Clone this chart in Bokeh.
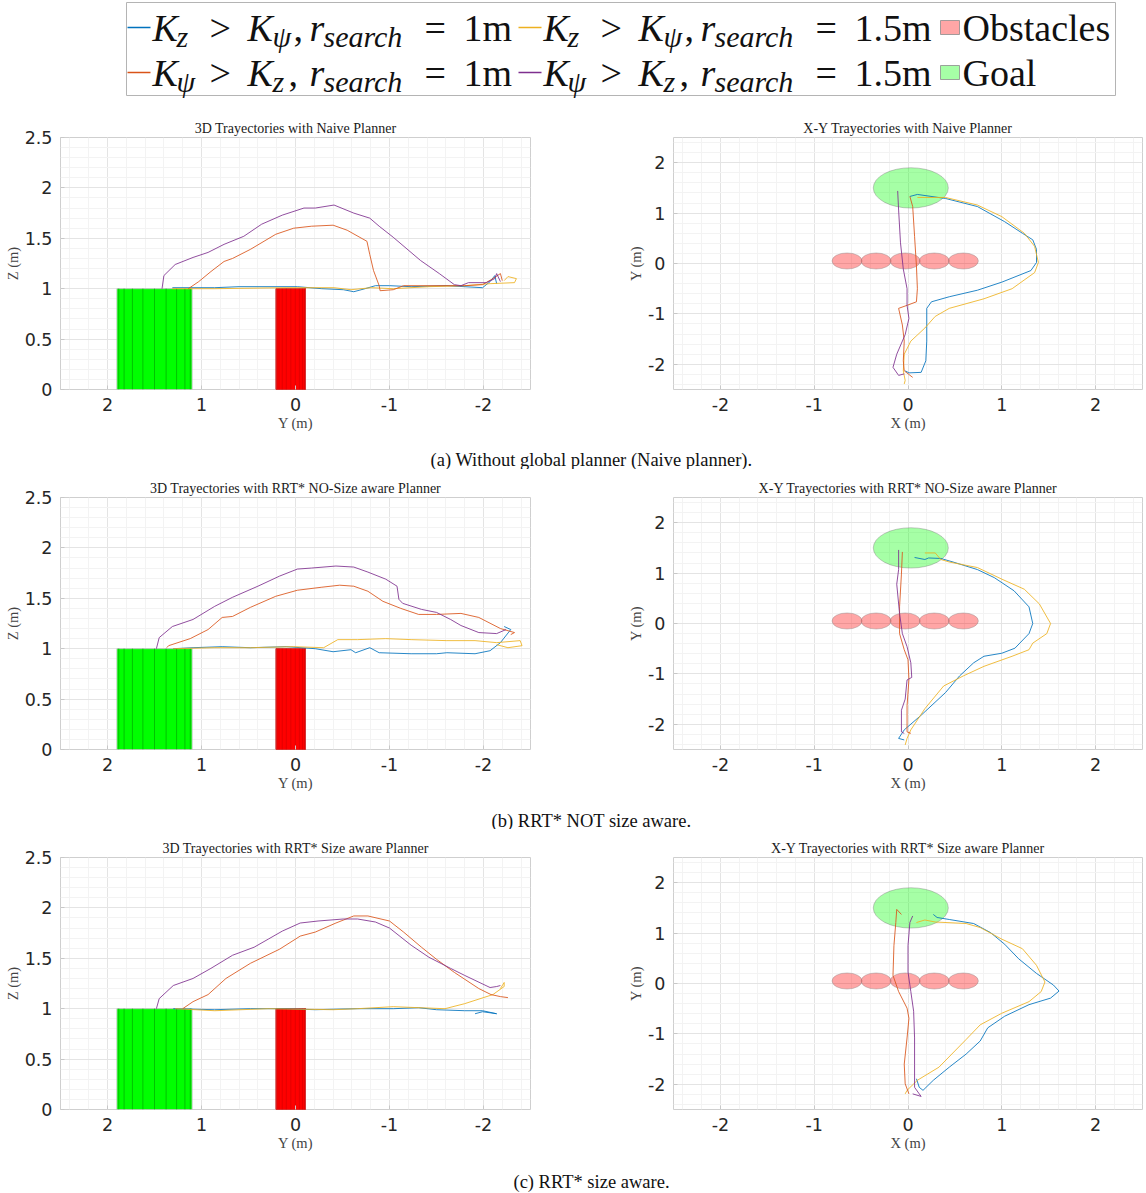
import numpy as np
from bokeh.plotting import figure
from bokeh.layouts import column, row
from bokeh.models import Range1d, FixedTicker, Label, ColumnDataSource
from bokeh.embed import file_html
from bokeh.resources import INLINE
from bokeh.core.properties import value

# ---------------- data ----------------
goal_center_x = 0.03
goal_center_y = 1.5
goal_radius = 0.4
goal_height = 1.0
obstacle_x = [-0.65, -0.34, -0.03, 0.28, 0.59]
obstacle_y = [0.05, 0.05, 0.05, 0.05, 0.05]
obstacle_radius = 0.155
obstacle_height = 1.0
facet_angles_deg = [18, 36, 54, 72, 90, 108, 126, 144, 162]

y3d_ticks = [-2, -1, 0, 1, 2]
y3d_labels = ["-2", "-1", "0", "1", "2"]
z3d_ticks = [0, 0.5, 1, 1.5, 2, 2.5]
z3d_labels = ["0", "0.5", "1", "1.5", "2", "2.5"]
xy_ticks = [-2, -1, 0, 1, 2]
xy_labels = ["-2", "-1", "0", "1", "2"]

# (a) naive planner, side view (Y, Z)
naive3d_blue_y = [1.31, 0.86, 0.6, 0.25, -0.02, -0.28, -0.51, -0.62, -0.74, -0.85, -1.0, -1.23, -1.61, -1.99, -2.07, -2.12, -2.14]
naive3d_blue_z = [1.01, 1.01, 1.02, 1.02, 1.02, 1.0, 0.99, 0.97, 1.0, 1.03, 1.03, 1.02, 1.03, 1.01, 1.07, 1.13, 1.05]
naive3d_yellow_y = [1.31, 0.86, 0.10, -0.41, -0.59, -0.81, -1.04, -1.42, -1.80, -2.07, -2.33, -2.35, -2.26, -2.22]
naive3d_yellow_z = [1.0, 1.0, 1.01, 1.01, 0.99, 1.01, 1.0, 1.02, 1.03, 1.05, 1.06, 1.10, 1.12, 1.08]
naive3d_orange_y = [1.14, 1.03, 0.90, 0.76, 0.67, 0.48, 0.21, 0.02, -0.17, -0.40, -0.55, -0.76, -0.79, -0.83, -0.89, -0.90, -1.04, -1.15, -1.42, -1.80, -1.99, -2.10, -2.18, -2.20]
naive3d_orange_z = [1.0, 1.07, 1.17, 1.27, 1.30, 1.39, 1.54, 1.60, 1.62, 1.63, 1.58, 1.47, 1.34, 1.18, 1.03, 0.98, 0.99, 1.03, 1.03, 1.03, 1.04, 1.10, 1.15, 1.08]
naive3d_purple_y = [1.42, 1.40, 1.28, 1.09, 0.93, 0.76, 0.55, 0.36, 0.14, -0.09, -0.21, -0.41, -0.62, -0.79, -0.89, -1.04, -1.33, -1.53, -1.69, -1.76, -1.84, -2.03, -2.12, -2.14, -2.18]
naive3d_purple_z = [1.0, 1.13, 1.24, 1.31, 1.36, 1.44, 1.52, 1.64, 1.73, 1.80, 1.80, 1.83, 1.75, 1.70, 1.62, 1.51, 1.28, 1.15, 1.04, 1.03, 1.06, 1.06, 1.10, 1.15, 1.07]

# (a) naive planner, top view (X, Y)
naivexy_blue_x = [0.02, 0.10, 0.40, 0.74, 1.03, 1.22, 1.33, 1.37, 1.37, 1.31, 1.0, 0.74, 0.44, 0.25, 0.20, 0.20, 0.19, 0.14, 0.01, -0.03]
naivexy_blue_y = [1.33, 1.37, 1.29, 1.13, 0.83, 0.60, 0.47, 0.28, 0.02, -0.14, -0.37, -0.53, -0.66, -0.76, -0.89, -1.54, -1.93, -2.16, -2.17, -2.13]
naivexy_yellow_x = [0.10, 0.40, 0.74, 1.0, 1.24, 1.35, 1.39, 1.35, 1.11, 0.81, 0.44, 0.29, 0.18, 0.03, -0.04, -0.05, -0.03, -0.04]
naivexy_yellow_y = [1.31, 1.31, 1.16, 0.93, 0.60, 0.34, 0.02, -0.18, -0.50, -0.70, -0.89, -1.05, -1.28, -1.54, -1.80, -2.13, -2.32, -2.39]
naivexy_orange_x = [0.02, 0.05, 0.07, 0.09, 0.10, 0.09, -0.01, -0.10, -0.06, -0.04, -0.05, -0.04, 0.05]
naivexy_orange_y = [1.33, 1.13, 0.54, -0.05, -0.50, -0.76, -0.83, -0.89, -1.22, -1.54, -1.93, -2.13, -2.26]
naivexy_purple_x = [-0.11, -0.10, -0.08, -0.05, -0.01, -0.01, 0.01, -0.03, -0.12, -0.16, -0.10, -0.04]
naivexy_purple_y = [1.44, 1.06, 0.41, -0.11, -0.50, -0.83, -1.09, -1.41, -1.80, -2.06, -2.22, -2.19]

# (b) RRT* not size aware, side view
rrt3d_blue_y = [1.30, 1.09, 0.78, 0.48, 0.10, -0.21, -0.40, -0.59, -0.64, -0.79, -0.89, -1.23, -1.50, -1.61, -1.91, -2.07, -2.18, -2.29, -2.22]
rrt3d_blue_z = [1.00, 1.01, 1.02, 1.01, 1.02, 1.0, 0.97, 0.99, 0.96, 1.01, 0.96, 0.95, 0.95, 0.96, 0.95, 0.98, 1.06, 1.19, 1.22]
rrt3d_yellow_y = [1.30, 0.86, 0.48, 0.02, -0.30, -0.45, -0.66, -0.96, -1.23, -1.61, -1.91, -2.14, -2.39, -2.41, -2.26, -2.14]
rrt3d_yellow_z = [1.0, 1.01, 1.01, 1.02, 1.01, 1.09, 1.09, 1.10, 1.09, 1.08, 1.08, 1.06, 1.08, 1.03, 1.01, 1.04]
rrt3d_orange_y = [1.37, 1.35, 1.12, 0.93, 0.78, 0.67, 0.48, 0.21, -0.02, -0.28, -0.47, -0.62, -0.77, -0.93, -1.12, -1.31, -1.50, -1.76, -1.95, -2.18, -2.33, -2.29]
rrt3d_orange_z = [1.01, 1.03, 1.10, 1.19, 1.31, 1.32, 1.41, 1.52, 1.58, 1.61, 1.63, 1.62, 1.57, 1.47, 1.40, 1.34, 1.34, 1.35, 1.31, 1.20, 1.16, 1.14]
rrt3d_purple_y = [1.48, 1.45, 1.31, 1.09, 0.86, 0.67, 0.40, 0.17, -0.02, -0.17, -0.43, -0.62, -0.77, -0.96, -1.08, -1.10, -1.14, -1.34, -1.50, -1.65, -1.76, -1.95, -2.14, -2.24]
rrt3d_purple_z = [1.0, 1.11, 1.22, 1.29, 1.42, 1.51, 1.62, 1.72, 1.79, 1.80, 1.82, 1.81, 1.76, 1.69, 1.62, 1.49, 1.45, 1.39, 1.36, 1.29, 1.23, 1.16, 1.15, 1.19]

# (b) RRT* not size aware, top view
rrtxy_blue_x = [0.07, 0.18, 0.22, 0.35, 0.48, 0.74, 0.92, 1.13, 1.29, 1.33, 1.29, 1.14, 1.0, 0.81, 0.70, 0.55, 0.40, 0.14, -0.04, -0.10, -0.04]
rrtxy_blue_y = [1.31, 1.27, 1.30, 1.29, 1.22, 1.07, 0.91, 0.65, 0.33, 0.0, -0.20, -0.49, -0.59, -0.65, -0.78, -1.04, -1.37, -1.82, -2.11, -2.28, -2.31]
rrtxy_yellow_x = [0.18, 0.29, 0.35, 0.44, 0.74, 1.0, 1.24, 1.40, 1.52, 1.48, 1.33, 1.29, 1.11, 0.81, 0.59, 0.38, 0.18, 0.03, -0.01, -0.03]
rrtxy_yellow_y = [1.40, 1.40, 1.27, 1.22, 1.11, 0.88, 0.68, 0.39, 0.0, -0.20, -0.39, -0.52, -0.65, -0.85, -1.04, -1.24, -1.69, -2.11, -2.28, -2.41]
rrtxy_orange_x = [-0.06, -0.07, -0.09, -0.09, -0.04, 0.0, 0.01, -0.01, -0.01, 0.03]
rrtxy_orange_y = [1.42, 0.98, 0.33, -0.20, -0.52, -0.72, -1.11, -1.63, -2.15, -2.18]
rrtxy_purple_x = [-0.10, -0.10, -0.12, -0.09, -0.06, -0.01, 0.03, 0.04, -0.01, -0.03, -0.07, -0.07, -0.04]
rrtxy_purple_y = [1.46, 1.07, 0.78, 0.20, -0.20, -0.46, -0.78, -1.07, -1.12, -1.50, -1.72, -2.15, -2.18]

# (c) RRT* size aware, side view
size3d_blue_y = [1.30, 0.86, 0.48, 0.10, -0.21, -0.66, -1.04, -1.31, -1.50, -1.80, -1.99, -2.14, -1.99, -1.91]
size3d_blue_z = [1.0, 0.99, 1.0, 1.0, 0.99, 1.0, 1.0, 1.01, 0.99, 0.98, 0.98, 0.95, 0.97, 0.95]
size3d_yellow_y = [1.28, 0.86, 0.29, -0.40, -0.66, -1.04, -1.59, -1.80, -2.10, -2.22, -2.22, -2.18]
size3d_yellow_z = [1.0, 0.98, 1.0, 0.99, 1.0, 1.02, 1.0, 1.05, 1.14, 1.22, 1.26, 1.20]
size3d_orange_y = [1.20, 1.09, 0.93, 0.74, 0.48, 0.17, -0.05, -0.21, -0.43, -0.62, -0.77, -1.0, -1.15, -1.34, -1.50, -1.69, -1.95, -2.08, -2.18, -2.26]
size3d_orange_z = [1.0, 1.07, 1.14, 1.30, 1.45, 1.59, 1.72, 1.76, 1.85, 1.92, 1.92, 1.87, 1.76, 1.61, 1.49, 1.36, 1.20, 1.14, 1.12, 1.11]
size3d_purple_y = [1.48, 1.45, 1.30, 1.09, 0.90, 0.67, 0.44, 0.29, 0.14, -0.05, -0.24, -0.51, -0.66, -0.85, -1.0, -1.23, -1.42, -1.65, -1.80, -2.07, -2.14, -2.18]
size3d_purple_z = [1.0, 1.10, 1.23, 1.30, 1.40, 1.53, 1.61, 1.69, 1.77, 1.85, 1.87, 1.89, 1.89, 1.86, 1.80, 1.63, 1.51, 1.40, 1.33, 1.21, 1.22, 1.23]

# (c) RRT* size aware, top view
sizexy_blue_x = [0.27, 0.31, 0.44, 0.70, 0.88, 1.03, 1.18, 1.37, 1.55, 1.61, 1.52, 1.29, 1.03, 0.85, 0.77, 0.62, 0.44, 0.27, 0.16, 0.12, 0.09]
sizexy_blue_y = [1.37, 1.31, 1.27, 1.19, 1.01, 0.78, 0.49, 0.20, -0.03, -0.15, -0.29, -0.42, -0.65, -0.88, -1.14, -1.40, -1.66, -1.92, -2.12, -2.06, -1.89]
sizexy_yellow_x = [0.09, 0.18, 0.29, 0.62, 0.77, 1.0, 1.22, 1.37, 1.46, 1.42, 1.29, 1.0, 0.77, 0.62, 0.33, 0.10, -0.01, -0.03]
sizexy_yellow_y = [1.21, 1.26, 1.22, 1.19, 1.11, 0.88, 0.69, 0.36, 0.03, -0.16, -0.36, -0.59, -0.82, -1.11, -1.66, -1.92, -2.12, -2.19]
sizexy_orange_x = [-0.07, -0.12, -0.13, -0.15, -0.16, -0.10, -0.01, 0.01, -0.01, -0.04, -0.03, 0.01]
sizexy_orange_y = [1.37, 1.47, 1.21, 0.75, 0.16, -0.16, -0.49, -0.69, -1.08, -1.60, -1.99, -2.19]
sizexy_purple_x = [0.05, 0.02, 0.0, 0.0, 0.03, 0.06, 0.07, 0.07, 0.07, 0.12, 0.14, 0.05]
sizexy_purple_y = [1.34, 1.21, 0.75, 0.23, -0.16, -0.55, -1.08, -1.60, -2.06, -2.19, -2.24, -2.19]

titles = ["3D Trayectories with Naive Planner", "X-Y Trayectories with Naive Planner",
          "3D Trayectories with RRT* NO-Size aware Planner", "X-Y Trayectories with RRT* NO-Size aware Planner",
          "3D Trayectories with RRT* Size aware Planner", "X-Y Trayectories with RRT* Size aware Planner"]
captions = ["(a) Without global planner (Naive planner).", "(b) RRT* NOT size aware.", "(c) RRT* size aware."]

# ---------------- style / layout constants ----------------
BLUE, ORANGE, YELLOW, PURPLE = "#0072BD", "#D95319", "#EDB120", "#7E2F8E"
TICK_FONT = "DejaVu Sans"
SERIF = "Liberation Serif"
W = 1146          # total layout width (page has no body margin)
TOP = 28          # top border of panels (title)
BOT = 40
FRAME_H = 256
PANEL_H = TOP + FRAME_H + BOT
CAP_H = 36
LEG_H = 137 - TOP
LEFT_W = 60 + 470 + 83
RIGHT_W = W - LEFT_W   # 60 + 469 + 4


def style_axes(p, xticks, xlabels, xminor, yticks, ylabels, yminor, xlab, ylab):
    p.xaxis.ticker = FixedTicker(ticks=xticks, minor_ticks=xminor)
    p.yaxis.ticker = FixedTicker(ticks=yticks, minor_ticks=yminor)
    p.xaxis.major_label_overrides = dict(zip(xticks, xlabels))
    p.yaxis.major_label_overrides = dict(zip(yticks, ylabels))
    p.xaxis.axis_label = xlab
    p.yaxis.axis_label = ylab
    for ax in p.axis:
        ax.axis_line_color = None
        ax.major_tick_in = 4
        ax.major_tick_out = 0
        ax.major_tick_line_color = "#c8c8c8"
        ax.minor_tick_line_color = None
        ax.major_label_text_font = TICK_FONT
        ax.major_label_text_font_size = "17.5px"
        ax.major_label_text_color = "#262626"
        ax.major_label_standoff = 4
        ax.axis_label_text_font = SERIF
        ax.axis_label_text_font_size = "14.5px"
        ax.axis_label_text_font_style = "normal"
        ax.axis_label_text_color = "#444444"
        ax.axis_label_standoff = 1
    for g in p.grid:
        g.grid_line_color = "#e4e4e4"
        g.minor_grid_line_color = "#f3f3f3"
    p.outline_line_color = "#cfcfcf"
    p.title.text_font = SERIF
    p.title.text_font_size = "14px"
    p.title.text_font_style = "normal"
    p.title.text_color = "#1a1a1a"
    p.title.align = "center"
    p.title.standoff = 3


def make_fig(width, left, right, xr, yr, title):
    return figure(width=width, height=PANEL_H, x_range=xr, y_range=yr, title=title,
                  min_border_left=left, min_border_right=right, min_border_top=TOP, min_border_bottom=BOT,
                  toolbar_location=None, output_backend="svg", background_fill_color="white")


angles = np.deg2rad(np.array(facet_angles_deg))


def side_view(title, series):
    p = make_fig(LEFT_W, 60, 83, Range1d(2.5, -2.5), Range1d(0, 2.5), title)
    style_axes(p, y3d_ticks, y3d_labels, list(np.round(np.arange(-2.4, 2.41, 0.2), 2)),
               z3d_ticks, z3d_labels, list(np.round(np.arange(0.1, 2.5, 0.1), 2)), "Y (m)", "Z (m)")
    p.quad(left=goal_center_y - goal_radius, right=goal_center_y + goal_radius, bottom=0, top=goal_height,
           fill_color="#00ff00", line_color="#bdbdbd", line_width=0.8)
    gx = goal_center_y + goal_radius * np.cos(angles)
    p.segment(x0=gx, y0=[0] * len(gx), x1=gx, y1=[goal_height] * len(gx), line_color="#00b400", line_width=0.8)
    for oy in obstacle_y:
        p.quad(left=oy - obstacle_radius, right=oy + obstacle_radius, bottom=0, top=obstacle_height,
               fill_color="#ff0000", line_color="#d04040", line_width=0.8)
        ox = oy + obstacle_radius * np.cos(angles)
        p.segment(x0=ox, y0=[0] * len(ox), x1=ox, y1=[obstacle_height] * len(ox),
                  line_color="#b00000", line_width=0.6, line_alpha=0.6)
    for (xs, ys, c) in series:
        p.line(xs, ys, line_color=c, line_width=1.0, line_alpha=0.85)
    return p


def top_view(title, series):
    p = make_fig(RIGHT_W, 60, 4, Range1d(-2.5, 2.5), Range1d(-2.5, 2.5), title)
    minor = list(np.round(np.arange(-2.4, 2.41, 0.2), 2))
    style_axes(p, xy_ticks, xy_labels, minor, xy_ticks, xy_labels, minor, "X (m)", "Y (m)")
    p.ellipse(x=[goal_center_x], y=[goal_center_y], width=2 * goal_radius, height=2 * goal_radius,
              fill_color="#00ff00", fill_alpha=0.35, line_color="#7a7a7a", line_alpha=0.5, line_width=0.8)
    p.ellipse(x=obstacle_x, y=obstacle_y, width=2 * obstacle_radius + 0.01, height=2 * obstacle_radius + 0.01,
              fill_color="#ff0000", fill_alpha=0.35, line_color="#8a8a8a", line_alpha=0.5, line_width=0.8)
    for (xs, ys, c) in series:
        p.line(xs, ys, line_color=c, line_width=1.0, line_alpha=0.85)
    return p


def caption_fig(text, h, ty):
    p = figure(width=W, height=h, x_range=Range1d(0, W), y_range=Range1d(h, 0),
               x_axis_location=None, y_axis_location=None, min_border=0,
               toolbar_location=None, output_backend="svg")
    p.grid.visible = False
    p.outline_line_color = None
    p.add_layout(Label(x=591, y=ty, text=text, text_font=SERIF, text_font_size="18.5px",
                       text_align="center", text_baseline="middle", text_color="#111111"))
    return p


# ---------------- legend ----------------
leg = figure(width=W, height=LEG_H, x_range=Range1d(0, W), y_range=Range1d(LEG_H, 0),
             x_axis_location=None, y_axis_location=None, min_border=0,
             toolbar_location=None, output_backend="svg")
leg.grid.visible = False
leg.outline_line_color = None
leg.quad(left=126, right=1115, top=2, bottom=95, fill_color="white", line_color="#b4b4b4", line_width=1)

legend_entries = [
    (BLUE, "z", "ψ", "1m", 0, 0),
    (YELLOW, "z", "ψ", "1.5m", 1, 0),
    (ORANGE, "ψ", "z", "1m", 0, 1),
    (PURPLE, "ψ", "z", "1.5m", 1, 1),
]
col_swatch = [127, 518]
col_text = [152, 543]
row_base = [42, 87]
row_mid = [27, 72]
MAIN, SUB = 38, 30
M_OFF = 0.38 * MAIN   # baseline -> middle offset
S_OFF = 0.38 * SUB
it = dict(x=[], y=[], t=[])
rm = dict(x=[], y=[], t=[])
sb = dict(x=[], y=[], t=[])
for color, s1, s2, val, col, r in legend_entries:
    x0, b = col_text[col], row_base[r]
    leg.line([col_swatch[col], col_swatch[col] + 23], [row_mid[r], row_mid[r]], line_color=color, line_width=1.6)
    for dx, t in [(0, "K"), (95, "K"), (157, "r")]:
        it["x"].append(x0 + dx); it["y"].append(b - M_OFF); it["t"].append(t)
    for dx, t in [(57, ">"), (141 if s2 == "ψ" else 136, ","), (272, "="), (311, val)]:
        rm["x"].append(x0 + dx); rm["y"].append(b - M_OFF); rm["t"].append(t)
    for dx, t in [(24, s1), (120, s2), (171, "search")]:
        sb["x"].append(x0 + dx); sb["y"].append(b + 5 - S_OFF); sb["t"].append(t)
leg.text(x="x", y="y", text="t", source=ColumnDataSource(it), text_font=value(SERIF), text_font_size=f"{MAIN}px",
         text_font_style="italic", text_baseline="middle", text_color="#111111")
leg.text(x="x", y="y", text="t", source=ColumnDataSource(rm), text_font=value(SERIF), text_font_size=f"{MAIN}px",
         text_baseline="middle", text_color="#111111")
leg.text(x="x", y="y", text="t", source=ColumnDataSource(sb), text_font=value(SERIF), text_font_size=f"{SUB}px",
         text_font_style="italic", text_baseline="middle", text_color="#111111")
leg.quad(left=[940, 940], right=[959, 959], top=[row_mid[0] - 7, row_mid[1] - 7], bottom=[row_mid[0] + 7, row_mid[1] + 7],
         fill_color=["#ffa6a6", "#a6ffa6"], line_color="#8c8c8c", line_width=0.8)
leg.text(x=[962, 962], y=[row_base[0] - M_OFF, row_base[1] - M_OFF], text=["Obstacles", "Goal"],
         text_font=value(SERIF), text_font_size=f"{MAIN}px", text_baseline="middle", text_color="#111111")

# ---------------- panels ----------------
f1 = side_view(titles[0], [(naive3d_blue_y, naive3d_blue_z, BLUE), (naive3d_yellow_y, naive3d_yellow_z, YELLOW),
                           (naive3d_orange_y, naive3d_orange_z, ORANGE), (naive3d_purple_y, naive3d_purple_z, PURPLE)])
f2 = top_view(titles[1], [(naivexy_blue_x, naivexy_blue_y, BLUE), (naivexy_yellow_x, naivexy_yellow_y, YELLOW),
                          (naivexy_orange_x, naivexy_orange_y, ORANGE), (naivexy_purple_x, naivexy_purple_y, PURPLE)])
f3 = side_view(titles[2], [(rrt3d_blue_y, rrt3d_blue_z, BLUE), (rrt3d_yellow_y, rrt3d_yellow_z, YELLOW),
                           (rrt3d_orange_y, rrt3d_orange_z, ORANGE), (rrt3d_purple_y, rrt3d_purple_z, PURPLE)])
f4 = top_view(titles[3], [(rrtxy_blue_x, rrtxy_blue_y, BLUE), (rrtxy_yellow_x, rrtxy_yellow_y, YELLOW),
                          (rrtxy_orange_x, rrtxy_orange_y, ORANGE), (rrtxy_purple_x, rrtxy_purple_y, PURPLE)])
f5 = side_view(titles[4], [(size3d_blue_y, size3d_blue_z, BLUE), (size3d_yellow_y, size3d_yellow_z, YELLOW),
                           (size3d_orange_y, size3d_orange_z, ORANGE), (size3d_purple_y, size3d_purple_z, PURPLE)])
f6 = top_view(titles[5], [(sizexy_blue_x, sizexy_blue_y, BLUE), (sizexy_yellow_x, sizexy_yellow_y, YELLOW),
                          (sizexy_orange_x, sizexy_orange_y, ORANGE), (sizexy_purple_x, sizexy_purple_y, PURPLE)])

# caption rows: caption centres at page y 459, 820, 1181
y_cap1 = LEG_H + PANEL_H
y_cap2 = y_cap1 + CAP_H + PANEL_H
y_cap3 = y_cap2 + CAP_H + PANEL_H
cap1 = caption_fig(captions[0], CAP_H, 459 - y_cap1)
cap2 = caption_fig(captions[1], CAP_H, 820 - y_cap2)
cap3 = caption_fig(captions[2], 1193 - y_cap3, 1181 - y_cap3)

layout = column(leg, row(f1, f2), cap1, row(f3, f4), cap2, row(f5, f6), cap3)

open("out.html", "w").write(file_html(layout, INLINE))
